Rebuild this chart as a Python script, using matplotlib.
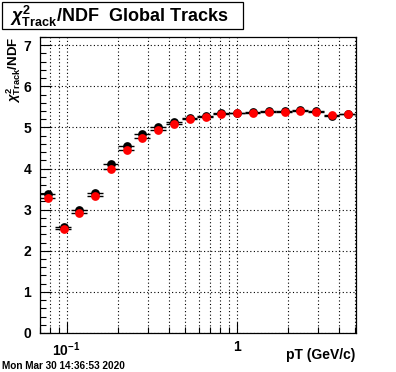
"""Chi2/NDF of global tracks vs pT, ROOT-style canvas."""
import matplotlib
matplotlib.use("Agg")
import matplotlib.pyplot as plt
from matplotlib.patches import Rectangle
from matplotlib.ticker import FixedLocator, MultipleLocator, NullFormatter

# bin edges along pT (GeV/c)
bin_edges = [0.0692, 0.0857, 0.1061, 0.1314, 0.1628, 0.2016, 0.2497, 0.3092,
             0.3830, 0.4743, 0.5874, 0.7275, 0.9010, 1.116, 1.382, 1.712,
             2.120, 2.626, 3.252, 4.028, 4.988]
chi2_black = [3.37, 2.59, 2.98, 3.41, 4.10, 4.54, 4.83, 5.02, 5.14, 5.24,
              5.29, 5.34, 5.36, 5.37, 5.39, 5.39, 5.42, 5.39, 5.27, 5.33]
chi2_red = [3.29, 2.52, 2.92, 3.34, 4.00, 4.44, 4.75, 4.94, 5.09, 5.20,
            5.26, 5.32, 5.34, 5.36, 5.38, 5.38, 5.40, 5.37, 5.30, 5.32]
x_grid = [0.07, 0.08, 0.09, 0.1, 0.2, 0.3, 0.4, 0.5, 0.6, 0.7, 0.8, 0.9,
          1, 2, 3, 4, 5]
x_tick_labels = {0.1: r"$\mathbf{10^{-1}}$", 1: "1"}
title = r"$\chi^{2}_{\mathbf{Track}}$/NDF  Global Tracks"
y_title = r"$\chi^{2}_{\mathbf{Track}}$/NDF"
x_title = "pT (GeV/c)"
date_stamp = "Mon Mar 30 14:36:53 2020"

plt.rcParams["font.family"] = ["Liberation Sans", "DejaVu Sans"]
plt.rcParams["font.weight"] = "bold"
plt.rcParams["mathtext.fontset"] = "custom"
plt.rcParams["mathtext.rm"] = "Liberation Sans:bold"
plt.rcParams["mathtext.bf"] = "Liberation Sans:bold"
plt.rcParams["mathtext.it"] = "Liberation Sans:italic"

W, H = 396, 372
fig = plt.figure(figsize=(W / 100, H / 100), dpi=100)
ax = fig.add_axes([39.5 / W, 1 - 333 / H, (356 - 39.5) / W, (333 - 37) / H])

centers = [(lo + hi) / 2 for lo, hi in zip(bin_edges[:-1], bin_edges[1:])]
xerr = [[c - lo for c, lo in zip(centers, bin_edges[:-1])],
        [hi - c for c, hi in zip(centers, bin_edges[1:])]]

for values, color in ((chi2_black, "black"), (chi2_red, "red")):
    ax.errorbar(centers, values, xerr=xerr, fmt="o", color=color,
                markersize=6.3, markeredgewidth=0, ecolor="black",
                elinewidth=1.0, capsize=0, zorder=3)

ax.set_xscale("log")
ax.set_xlim(0.0692, 5.05)
ax.set_ylim(0, 7.2)

ax.xaxis.set_major_locator(FixedLocator(list(x_tick_labels)))
ax.xaxis.set_major_formatter(plt.FixedFormatter(list(x_tick_labels.values())))
ax.xaxis.set_minor_locator(FixedLocator([v for v in x_grid if v not in x_tick_labels]))
ax.xaxis.set_minor_formatter(NullFormatter())
ax.yaxis.set_major_locator(MultipleLocator(1))
ax.yaxis.set_minor_locator(MultipleLocator(0.2))

ax.tick_params(which="both", direction="in", top=False, right=False,
               labelsize=10, width=0.8, color="black")
ax.tick_params(which="major", length=8)
ax.tick_params(which="minor", length=4)
ax.tick_params(axis="y", which="major", pad=6)
ax.tick_params(axis="x", which="major", pad=5)

grid_style = dict(color="black", linewidth=0.8, linestyle=(0, (1, 2.2)))
ax.grid(True, axis="x", which="both", **grid_style)
ax.grid(True, axis="y", which="major", **grid_style)
ax.set_axisbelow(True)
for spine in ax.spines.values():
    spine.set_linewidth(0.9)

fig.text(355 / W, 1 - 355 / H, x_title, fontsize=10, fontweight="bold",
         va="center", ha="right")
fig.text(14 / W, 1 - 37 / H, y_title, fontsize=9.5, fontweight="bold",
         va="top", ha="center", rotation=90)

fig.patches.append(Rectangle((2 / W, 1 - 29 / H), 241 / W, 27 / H,
                             transform=fig.transFigure, facecolor="white",
                             edgecolor="black", linewidth=0.9))
fig.text(10 / W, 1 - 16 / H, title, fontsize=13, fontweight="bold",
         va="center", ha="left")
fig.text(2 / W, 1 - 366 / H, date_stamp, fontsize=7.2, fontweight="bold",
         va="center", ha="left")

fig.savefig("out.png", dpi=100)
